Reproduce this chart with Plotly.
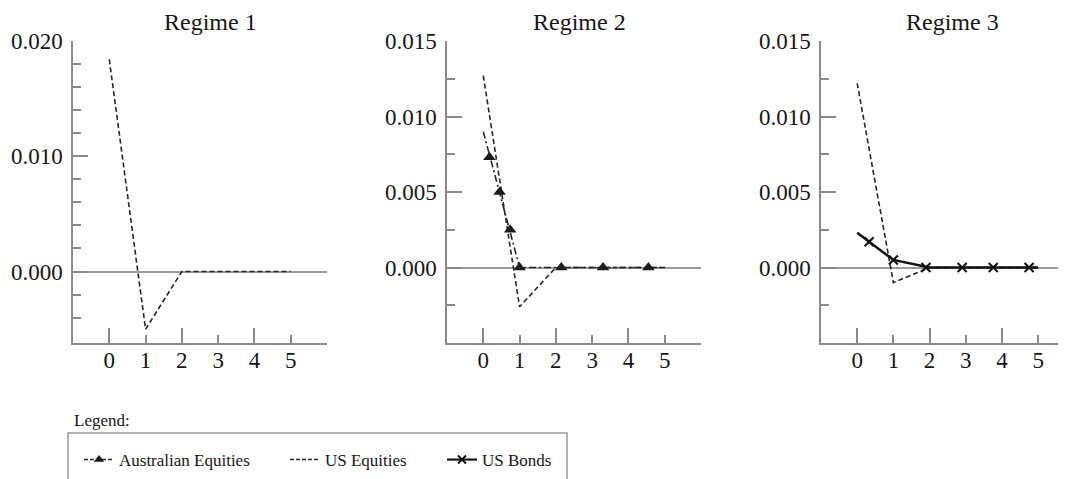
import plotly.graph_objects as go

# ---------------- data ----------------
lags = [0, 1, 2, 3, 4, 5]

r1_us_equities = [0.0184, -0.0050, 0.0, 0.0, 0.0, 0.0]

r2_us_equities = [0.0127, -0.0026, 0.0, 0.0, 0.0, 0.0]
r2_aus_equities = [0.0090, 0.0, 0.0, 0.0, 0.0, 0.0]
r2_aus_marker_lag = [0.17, 0.45, 0.74, 1.0, 2.15, 3.3, 4.55]
r2_aus_marker_val = [0.0073, 0.0050, 0.0025, 0.0, 0.0, 0.0, 0.0]

r3_us_equities = [0.0122, -0.0010, 0.0, 0.0, 0.0, 0.0]
r3_us_bonds = [0.0023, 0.0005, 0.0, 0.0, 0.0, 0.0]
r3_bond_marker_lag = [0.33, 1.0, 1.9, 2.9, 3.76, 4.75]
r3_bond_marker_val = [0.0017, 0.0005, 0.0, 0.0, 0.0, 0.0]

titles = ["Regime 1", "Regime 2", "Regime 3"]
series_names = ["Australian Equities", "US Equities", "US Bonds"]

x_tick_vals = [0, 1, 2, 3, 4, 5, 6]
x_tick_text = ["0", "1", "2", "3", "4", "5", ""]
x_long_ticks = [0, 2, 4, 6]

y1_major = [0.0, 0.010, 0.020]
y1_major_text = ["0.000", "0.010", "0.020"]
y1_minor = [-0.004, -0.002, 0.002, 0.004, 0.006, 0.008, 0.012, 0.014, 0.016, 0.018]
y23_major = [0.0, 0.005, 0.010, 0.015]
y23_major_text = ["0.000", "0.005", "0.010", "0.015"]
y23_minor = [-0.0025, 0.0025, 0.0075, 0.0125]

# ---------------- styling ----------------
PAGE_OFF = 8          # default body margin of the written page
W, H = 1066 - PAGE_OFF, 479 - PAGE_OFF
FONT = "Liberation Serif"
TXT = "#161616"
AX = "#8a8a8a"
DARK = "#262626"
US_EQ_DASH = "5px,3px"
AUS_DASH = "7px,3px,2px,3px"


def px_x(p):
    return (p - PAGE_OFF) / W


def px_y(p):
    return 1 - (p - PAGE_OFF) / H


ydom = [px_y(343), px_y(41)]
xdoms = [[px_x(73), px_x(327)], [px_x(447), px_x(701)], [px_x(821), 1.0]]
xranges = [[-1, 6], [-1, 6], [-1, 5.77]]

fig = go.Figure()

# Regime 1
fig.add_trace(go.Scatter(x=lags, y=r1_us_equities, mode="lines", xaxis="x", yaxis="y",
                         line=dict(color=DARK, width=1.6, dash=US_EQ_DASH), showlegend=False))
# Regime 2
fig.add_trace(go.Scatter(x=lags, y=r2_us_equities, mode="lines", xaxis="x2", yaxis="y2",
                         line=dict(color=DARK, width=1.6, dash=US_EQ_DASH), showlegend=False))
fig.add_trace(go.Scatter(x=lags, y=r2_aus_equities, mode="lines", xaxis="x2", yaxis="y2",
                         line=dict(color=DARK, width=1.6, dash=AUS_DASH), showlegend=False))
fig.add_trace(go.Scatter(x=r2_aus_marker_lag, y=r2_aus_marker_val, mode="markers", xaxis="x2", yaxis="y2",
                         marker=dict(symbol="triangle-up", size=11, color="#1c1c1c"), showlegend=False))
# Regime 3
fig.add_trace(go.Scatter(x=lags, y=r3_us_equities, mode="lines", xaxis="x3", yaxis="y3",
                         line=dict(color=DARK, width=1.6, dash=US_EQ_DASH), showlegend=False))
fig.add_trace(go.Scatter(x=lags, y=r3_us_bonds, mode="lines", xaxis="x3", yaxis="y3",
                         line=dict(color="#111111", width=2.5), showlegend=False))
fig.add_trace(go.Scatter(x=r3_bond_marker_lag, y=r3_bond_marker_val, mode="markers", xaxis="x3", yaxis="y3",
                         marker=dict(symbol="x-thin", size=9, line=dict(color="#111111", width=2)),
                         showlegend=False))

# overlay axes carrying the long even ticks
for ox, base_y in [("x4", "y"), ("x5", "y2"), ("x6", "y3")]:
    fig.add_trace(go.Scatter(x=[None], y=[None], xaxis=ox, yaxis=base_y, mode="markers",
                             showlegend=False, hoverinfo="skip"))

# legend entries
fig.add_trace(go.Scatter(x=[None], y=[None], mode="lines+markers", name=series_names[0], legend="legend",
                         line=dict(color=DARK, width=1.5, dash="4px,2px"),
                         marker=dict(symbol="triangle-up", size=9, color="#1c1c1c")))
fig.add_trace(go.Scatter(x=[None], y=[None], mode="lines", name=series_names[1], legend="legend2",
                         line=dict(color=DARK, width=1.5, dash="4px,2px")))
fig.add_trace(go.Scatter(x=[None], y=[None], mode="lines+markers", name=series_names[2], legend="legend3",
                         line=dict(color="#111111", width=2.2),
                         marker=dict(symbol="x-thin", size=8, line=dict(color="#111111", width=2))))

tickfont = dict(family=FONT, size=23, color=TXT)
layout = dict(
    width=W, height=H, autosize=False,
    margin=dict(l=0, r=0, t=0, b=0, autoexpand=False),
    paper_bgcolor="white", plot_bgcolor="white",
    font=dict(family=FONT, color=TXT),
)

for i in range(3):
    xs = "" if i == 0 else str(i + 1)
    ys = "" if i == 0 else str(i + 1)
    layout["xaxis" + xs] = dict(
        domain=xdoms[i], range=xranges[i], anchor="y" + ys, automargin=False,
        showline=True, linecolor=AX, linewidth=1.5, mirror=False,
        ticks="inside", ticklen=8, tickwidth=1.5, tickcolor=AX,
        tickmode="array", tickvals=x_tick_vals, ticktext=x_tick_text,
        tickfont=tickfont, showgrid=False, zeroline=False, fixedrange=True,
        ticklabelstandoff=-4,
    )
    layout["xaxis" + str(i + 4)] = dict(
        overlaying="x" + xs, anchor="y" + ys, range=xranges[i], side="bottom", automargin=False,
        showline=False, ticks="inside", ticklen=15, tickwidth=1.5, tickcolor=AX,
        tickmode="array", tickvals=x_long_ticks, showticklabels=False,
        showgrid=False, zeroline=False, fixedrange=True,
    )
    if i == 0:
        yr, ymaj, ytxt, ymin = [-0.0062, 0.020], y1_major, y1_major_text, y1_minor
    else:
        yr, ymaj, ytxt, ymin = [-0.005, 0.015], y23_major, y23_major_text, y23_minor
    layout["yaxis" + ys] = dict(
        domain=ydom, range=yr, anchor="x" + xs, automargin=False,
        showline=True, linecolor=AX, linewidth=1.5,
        ticks="inside", ticklen=15, tickwidth=1.5, tickcolor=AX,
        tickmode="array", tickvals=ymaj, ticktext=ytxt, tickfont=tickfont,
        minor=dict(tickmode="array", tickvals=ymin, ticks="inside", ticklen=8,
                   tickwidth=1.5, tickcolor=AX, showgrid=False),
        showgrid=False, zeroline=True, zerolinecolor="#9a9a9a", zerolinewidth=1.5,
        fixedrange=True, ticklabelstandoff=4,
    )

legfont = dict(family=FONT, size=17, color=TXT)
for name, xp in [("legend", 79), ("legend2", 285), ("legend3", 442)]:
    layout[name] = dict(x=px_x(xp), xanchor="left", y=px_y(460), yanchor="middle",
                        orientation="h", bgcolor="rgba(0,0,0,0)", borderwidth=0,
                        font=legfont, itemwidth=30)

annotations = []
for t, cx in zip(titles, [210, 579, 952]):
    annotations.append(dict(text=t, x=px_x(cx), y=px_y(22), xref="paper", yref="paper",
                            xanchor="center", yanchor="middle", showarrow=False,
                            font=dict(family=FONT, size=24, color=TXT)))
annotations.append(dict(text="Legend:", x=px_x(72), y=px_y(420), xref="paper", yref="paper",
                        xanchor="left", yanchor="middle", showarrow=False,
                        font=dict(family=FONT, size=17, color=TXT)))
layout["annotations"] = annotations
layout["shapes"] = [dict(type="rect", xref="paper", yref="paper",
                         x0=px_x(68), x1=px_x(567), y0=-0.2, y1=px_y(433),
                         line=dict(color="#9a9a9a", width=1.5), fillcolor="rgba(0,0,0,0)")]

fig.update_layout(**layout)
fig.write_html("out.html")
